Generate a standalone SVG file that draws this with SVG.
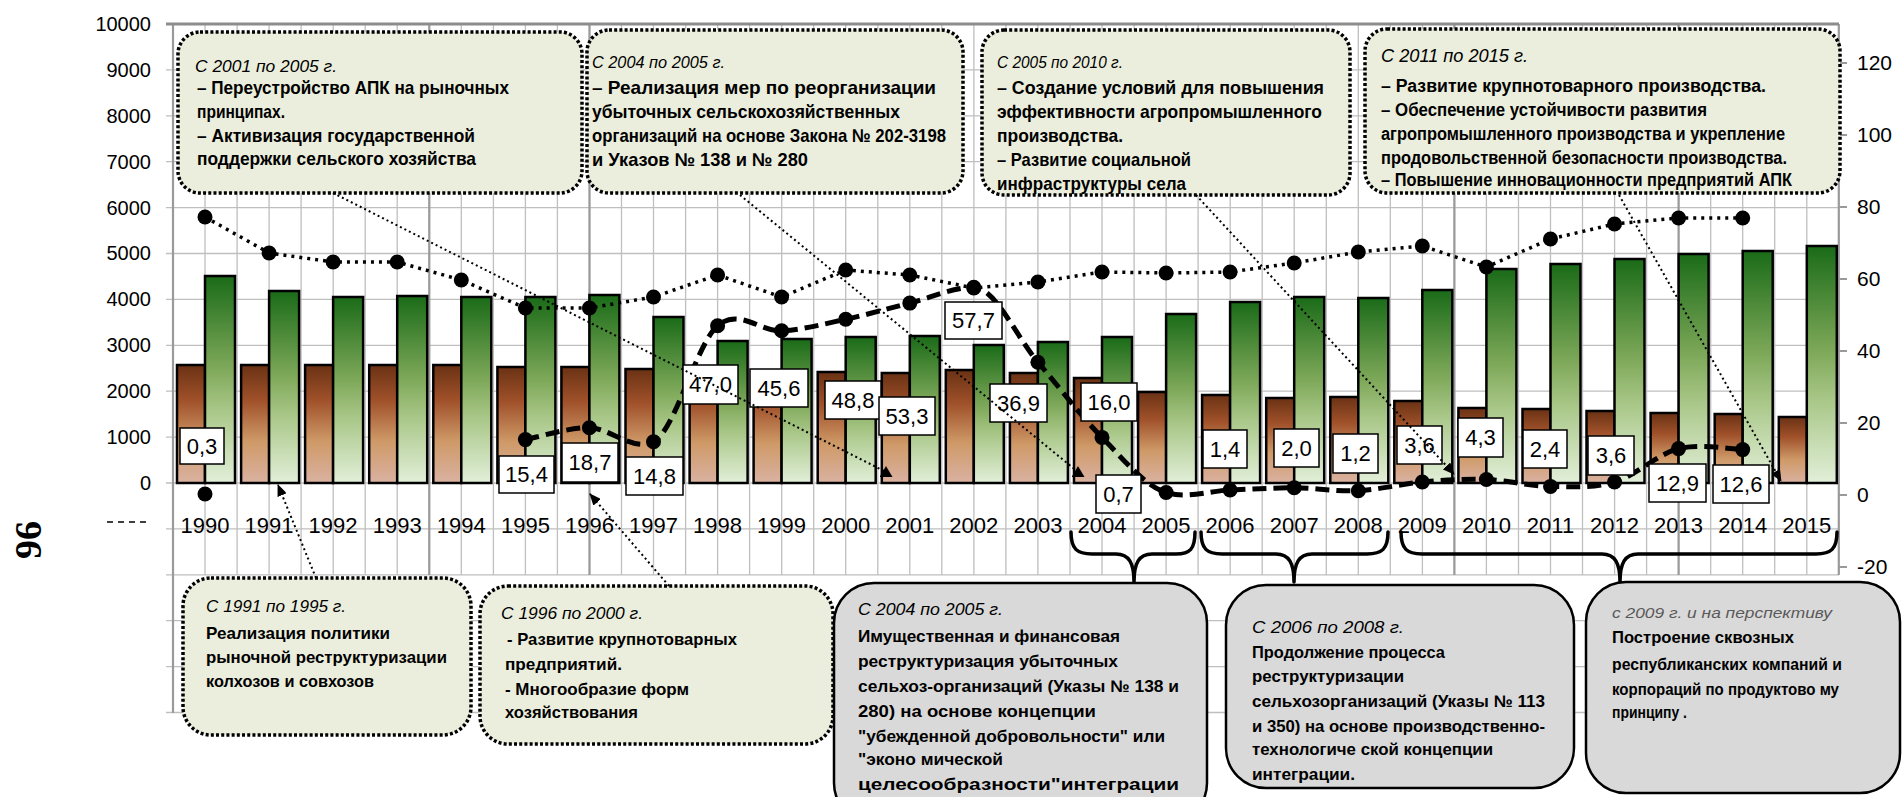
<svg xmlns="http://www.w3.org/2000/svg" width="1903" height="797" viewBox="0 0 1903 797">
<defs>
  <linearGradient id="gBrown" x1="0" y1="0" x2="0" y2="1">
    <stop offset="0" stop-color="#6A3214"/>
    <stop offset="0.3" stop-color="#A0512A"/>
    <stop offset="0.65" stop-color="#CF9A68"/>
    <stop offset="1" stop-color="#DAB2A2"/>
  </linearGradient>
  <linearGradient id="gGreen" x1="0" y1="0" x2="0" y2="1">
    <stop offset="0" stop-color="#1A6B18"/>
    <stop offset="0.45" stop-color="#7FA95A"/>
    <stop offset="0.65" stop-color="#A9C788"/>
    <stop offset="1" stop-color="#E2EFD9"/>
  </linearGradient>
  <marker id="arrow" viewBox="0 0 12 10" refX="11" refY="5" markerWidth="12" markerHeight="10" markerUnits="userSpaceOnUse" orient="auto">
    <path d="M0,0 L12,5 L0,10 z" fill="#000"/>
  </marker>
  <marker id="tri" viewBox="0 0 13 11" refX="6.5" refY="6" markerWidth="13" markerHeight="11" markerUnits="userSpaceOnUse" orient="0">
    <path d="M0,11 L6.5,0 L13,11 z" fill="#000"/>
  </marker>
  <style>
    text { font-family: "Liberation Sans", Arial, sans-serif; fill: #000; }
    .ax { font-size: 20px; }
    .axr { font-size: 21px; }
    .yr { font-size: 22px; text-anchor: middle; }
    .dl { font-size: 22px; text-anchor: middle; }
    .ti { font-style: italic; font-size: 16.5px; }
    .li { font-style: italic; font-size: 16px; }
    .itg { font-style: italic; font-size: 15px; fill: #595959; }
    .tb { font-weight: bold; font-size: 18.5px; }
    .tbd { font-weight: bold; font-size: 18px; }
    .lb { font-weight: bold; font-size: 16.5px; }
    .page { font-family: "Liberation Serif", "Times New Roman", serif; font-weight: bold; font-size: 38px; text-anchor: middle; }
    .grid { stroke: #BFBFBF; stroke-width: 1.3; fill: none; }
    .gridd { stroke: #9A9A9A; stroke-width: 2.2; fill: none; }
    .bb { fill: url(#gBrown); stroke: #000; stroke-width: 2.5; }
    .bg { fill: url(#gGreen); stroke: #000; stroke-width: 2.5; }
    .dot { fill: #000; }
    .lbl { fill: #fff; stroke: #000; stroke-width: 1.5; }
    .note { fill: #EBEEDC; stroke: #000; stroke-width: 3.5; stroke-dasharray: 3 2.2; }
    .gray { fill: #D9D9D9; stroke: #000; stroke-width: 2.5; }
    .brace { fill: none; stroke: #000; stroke-width: 3.5; stroke-linecap: round; stroke-linejoin: round; }
    .conn { fill: none; stroke: #000; stroke-width: 2; stroke-dasharray: 2 3; }
  </style>
</defs>

<rect x="0" y="0" width="1903" height="797" fill="#fff"/>

<!-- plot grid and axes -->
<g id="chart-grid">
  <path class="grid" d="M166,24H1839M166,69.9H1839M166,115.8H1839M166,161.7H1839M166,207.6H1839M166,253.5H1839M166,299.4H1839M166,345.3H1839M166,391.2H1839M166,437.1H1839M166,483H1839M166,528.9H1839M166,574.8H1839M166,620.7H1839M166,666.6H1839M166,712.5H1839"/>
  <path class="grid" d="M205,24V575M237.1,24V575M269.1,24V575M301.1,24V575M333.2,24V575M365.2,24V575M397.2,24V575M429.3,24V575M461.3,24V575M493.4,24V575M525.4,24V575M557.4,24V575M589.5,24V575M621.5,24V575M653.5,24V575M685.6,24V575M717.6,24V575M749.6,24V575M781.7,24V575M813.7,24V575M845.7,24V575M877.8,24V575M909.8,24V575M941.8,24V575M973.9,24V575M1005.9,24V575M1037.9,24V575M1070,24V575M1102,24V575M1134.1,24V575M1166.1,24V575M1198.1,24V575M1230.2,24V575M1262.2,24V575M1294.2,24V575M1326.3,24V575M1358.3,24V575M1390.3,24V575M1422.4,24V575M1454.4,24V575M1486.4,24V575M1518.5,24V575M1550.5,24V575M1582.5,24V575M1614.6,24V575M1646.6,24V575M1678.6,24V575M1710.7,24V575M1742.7,24V575M1774.7,24V575M1806.8,24V575"/>
  <path class="gridd" d="M173,24V713M429.3,24V575M589.5,24V575M1454.4,24V575M1678.6,24V575M1838.8,24V575"/>
  <path d="M166,24H1839" stroke="#8C8C8C" stroke-width="3"/>
  <path class="gridd" d="M1839,63h8M1839,135h8M1839,207h8M1839,279h8M1839,351h8M1839,423h8M1839,495h8M1839,567h8"/>
  <path d="M107,522H150" stroke="#000" stroke-width="1.5" stroke-dasharray="6 5"/>
  <g class="ax" text-anchor="end">
    <text x="151" y="31">10000</text>
    <text x="151" y="77">9000</text>
    <text x="151" y="123">8000</text>
    <text x="151" y="169">7000</text>
    <text x="151" y="215">6000</text>
    <text x="151" y="260">5000</text>
    <text x="151" y="306">4000</text>
    <text x="151" y="352">3000</text>
    <text x="151" y="398">2000</text>
    <text x="151" y="444">1000</text>
    <text x="151" y="490">0</text>
  </g>
  <g class="axr">
    <text x="1857" y="70">120</text>
    <text x="1857" y="142">100</text>
    <text x="1857" y="214">80</text>
    <text x="1857" y="286">60</text>
    <text x="1857" y="358">40</text>
    <text x="1857" y="430">20</text>
    <text x="1857" y="502">0</text>
    <text x="1857" y="574">-20</text>
  </g>
  <g class="yr">
    <text x="205" y="533">1990</text><text x="269.1" y="533">1991</text><text x="333.1" y="533">1992</text>
    <text x="397.2" y="533">1993</text><text x="461.3" y="533">1994</text><text x="525.4" y="533">1995</text>
    <text x="589.4" y="533">1996</text><text x="653.5" y="533">1997</text><text x="717.6" y="533">1998</text>
    <text x="781.6" y="533">1999</text><text x="845.7" y="533">2000</text><text x="909.8" y="533">2001</text>
    <text x="973.8" y="533">2002</text><text x="1037.9" y="533">2003</text><text x="1102" y="533">2004</text>
    <text x="1166.1" y="533">2005</text><text x="1230.1" y="533">2006</text><text x="1294.2" y="533">2007</text>
    <text x="1358.3" y="533">2008</text><text x="1422.3" y="533">2009</text><text x="1486.4" y="533">2010</text>
    <text x="1550.5" y="533">2011</text><text x="1614.5" y="533">2012</text><text x="1678.6" y="533">2013</text>
    <text x="1742.7" y="533">2014</text><text x="1806.8" y="533">2015</text>
  </g>
  <text class="page" transform="translate(41,540) rotate(-90)">96</text>
</g>

<!-- columns: brown (left) and green (right) per year -->
<g id="bars">
  <rect class="bb" x="177" y="365" width="28" height="118"/><rect class="bg" x="205" y="276" width="30" height="207"/>
  <rect class="bb" x="241.1" y="365" width="28" height="118"/><rect class="bg" x="269.1" y="291" width="30" height="192"/>
  <rect class="bb" x="305.1" y="365" width="28" height="118"/><rect class="bg" x="333.1" y="297" width="30" height="186"/>
  <rect class="bb" x="369.2" y="365" width="28" height="118"/><rect class="bg" x="397.2" y="296" width="30" height="187"/>
  <rect class="bb" x="433.3" y="365" width="28" height="118"/><rect class="bg" x="461.3" y="297" width="30" height="186"/>
  <rect class="bb" x="497.4" y="367" width="28" height="116"/><rect class="bg" x="525.4" y="297" width="30" height="186"/>
  <rect class="bb" x="561.4" y="367" width="28" height="116"/><rect class="bg" x="589.4" y="295" width="30" height="188"/>
  <rect class="bb" x="625.5" y="369" width="28" height="114"/><rect class="bg" x="653.5" y="317" width="30" height="166"/>
  <rect class="bb" x="689.6" y="370" width="28" height="113"/><rect class="bg" x="717.6" y="341" width="30" height="142"/>
  <rect class="bb" x="753.6" y="371" width="28" height="112"/><rect class="bg" x="781.6" y="339" width="30" height="144"/>
  <rect class="bb" x="817.7" y="372" width="28" height="111"/><rect class="bg" x="845.7" y="337" width="30" height="146"/>
  <rect class="bb" x="881.8" y="373" width="28" height="110"/><rect class="bg" x="909.8" y="336" width="30" height="147"/>
  <rect class="bb" x="945.8" y="370" width="28" height="113"/><rect class="bg" x="973.8" y="345" width="30" height="138"/>
  <rect class="bb" x="1009.9" y="373" width="28" height="110"/><rect class="bg" x="1037.9" y="342" width="30" height="141"/>
  <rect class="bb" x="1074" y="378" width="28" height="105"/><rect class="bg" x="1102" y="337" width="30" height="146"/>
  <rect class="bb" x="1138.1" y="392" width="28" height="91"/><rect class="bg" x="1166.1" y="314" width="30" height="169"/>
  <rect class="bb" x="1202.1" y="395" width="28" height="88"/><rect class="bg" x="1230.1" y="302" width="30" height="181"/>
  <rect class="bb" x="1266.2" y="398" width="28" height="85"/><rect class="bg" x="1294.2" y="297" width="30" height="186"/>
  <rect class="bb" x="1330.3" y="397" width="28" height="86"/><rect class="bg" x="1358.3" y="298" width="30" height="185"/>
  <rect class="bb" x="1394.3" y="401" width="28" height="82"/><rect class="bg" x="1422.3" y="290" width="30" height="193"/>
  <rect class="bb" x="1458.4" y="408" width="28" height="75"/><rect class="bg" x="1486.4" y="269" width="30" height="214"/>
  <rect class="bb" x="1522.5" y="409" width="28" height="74"/><rect class="bg" x="1550.5" y="264" width="30" height="219"/>
  <rect class="bb" x="1586.5" y="411" width="28" height="72"/><rect class="bg" x="1614.5" y="259" width="30" height="224"/>
  <rect class="bb" x="1650.6" y="413" width="28" height="70"/><rect class="bg" x="1678.6" y="254" width="30" height="229"/>
  <rect class="bb" x="1714.7" y="414" width="28" height="69"/><rect class="bg" x="1742.7" y="251" width="30" height="232"/>
  <rect class="bb" x="1778.8" y="417" width="28" height="66"/><rect class="bg" x="1806.8" y="246" width="30" height="237"/>
</g>

<!-- dotted series on the right axis -->
<g id="series-dotted">
  <polyline fill="none" stroke="#000" stroke-width="3.5" stroke-dasharray="3 5" points="205,217 269.1,253 333.1,262 397.2,262 461.3,280 525.4,308 589.4,308 653.5,297 717.6,275 781.6,297 845.7,270 909.8,275 973.8,288 1037.9,282 1102,272 1166.1,273 1230.1,272 1294.2,263 1358.3,252 1422.3,246 1486.4,267 1550.5,239 1614.5,224 1678.6,218 1742.7,218"/>
  <g class="dot">
    <circle cx="205" cy="217" r="7.5"/><circle cx="269.1" cy="253" r="7.5"/><circle cx="333.1" cy="262" r="7.5"/>
    <circle cx="397.2" cy="262" r="7.5"/><circle cx="461.3" cy="280" r="7.5"/><circle cx="525.4" cy="308" r="7.5"/>
    <circle cx="589.4" cy="308" r="7.5"/><circle cx="653.5" cy="297" r="7.5"/><circle cx="717.6" cy="275" r="7.5"/>
    <circle cx="781.6" cy="297" r="7.5"/><circle cx="845.7" cy="270" r="7.5"/><circle cx="909.8" cy="275" r="7.5"/>
    <circle cx="973.8" cy="288" r="7.5"/><circle cx="1037.9" cy="282" r="7.5"/><circle cx="1102" cy="272" r="7.5"/>
    <circle cx="1166.1" cy="273" r="7.5"/><circle cx="1230.1" cy="272" r="7.5"/><circle cx="1294.2" cy="263" r="7.5"/>
    <circle cx="1358.3" cy="252" r="7.5"/><circle cx="1422.3" cy="246" r="7.5"/><circle cx="1486.4" cy="267" r="7.5"/>
    <circle cx="1550.5" cy="239" r="7.5"/><circle cx="1614.5" cy="224" r="7.5"/><circle cx="1678.6" cy="218" r="7.5"/>
    <circle cx="1742.7" cy="218" r="7.5"/>
  </g>
</g>

<!-- dashed smoothed series on the right axis -->
<g id="series-dashed">
  <path fill="none" stroke="#000" stroke-width="5" stroke-dasharray="14 7" d="M525.4,439.6 C536,437.6 568.1,427.4 589.4,427.7 C610.8,428.1 632.1,452 653.5,441.7 C674.9,431.4 696.2,344.3 717.6,325.8 C738.9,307.3 760.3,331.9 781.6,330.8 C803,329.7 824.3,323.9 845.7,319.3 C867.1,314.7 888.4,308.4 909.8,303.1 C931.1,297.8 952.5,287.3 973.8,287.3 C995.2,287.3 1016.6,337.2 1037.9,362.2 C1059.3,387.2 1080.6,415.7 1102,437.4 C1123.3,459.1 1144.7,486 1166.1,492.5 C1187.4,499 1208.8,490.8 1230.1,490 C1251.5,489.2 1272.8,487.7 1294.2,487.8 C1315.6,487.9 1336.9,491.7 1358.3,490.7 C1379.6,489.7 1401,483.9 1422.3,482 C1443.7,480.1 1465,478.8 1486.4,479.5 C1507.8,480.2 1529.1,486 1550.5,486.4 C1571.8,486.8 1593.2,488.3 1614.5,482 C1635.9,475.7 1657.3,454 1678.6,448.6 C1700,443.2 1732,449.4 1742.7,449.6"/>
  <g class="dot">
    <circle cx="205" cy="494" r="7.5"/>
    <circle cx="525.4" cy="439.6" r="7.5"/><circle cx="589.4" cy="427.7" r="7.5"/><circle cx="653.5" cy="441.7" r="7.5"/>
    <circle cx="717.6" cy="325.8" r="7.5"/><circle cx="781.6" cy="330.8" r="7.5"/><circle cx="845.7" cy="319.3" r="7.5"/>
    <circle cx="909.8" cy="303.1" r="7.5"/><circle cx="973.8" cy="287.3" r="7.5"/><circle cx="1037.9" cy="362.2" r="7.5"/>
    <circle cx="1102" cy="437.4" r="7.5"/><circle cx="1166.1" cy="492.5" r="7.5"/><circle cx="1230.1" cy="490" r="7.5"/>
    <circle cx="1294.2" cy="487.8" r="7.5"/><circle cx="1358.3" cy="490.7" r="7.5"/><circle cx="1422.3" cy="482" r="7.5"/>
    <circle cx="1486.4" cy="479.5" r="7.5"/><circle cx="1550.5" cy="486.4" r="7.5"/><circle cx="1614.5" cy="482" r="7.5"/>
    <circle cx="1678.6" cy="448.6" r="7.5"/><circle cx="1742.7" cy="449.6" r="7.5"/>
  </g>
</g>

<!-- value labels of the dashed series -->
<g id="labels">
  <rect class="lbl" x="180" y="428" width="44" height="36"/><text class="dl" x="202" y="454">0,3</text>
  <rect class="lbl" x="499" y="456" width="55" height="37"/><text class="dl" x="526.5" y="482">15,4</text>
  <rect class="lbl" x="562" y="443" width="56" height="39"/><text class="dl" x="590" y="470">18,7</text>
  <rect class="lbl" x="626" y="457" width="57" height="38"/><text class="dl" x="654.5" y="484">14,8</text>
  <rect class="lbl" x="683" y="365" width="55" height="39"/><text class="dl" x="710.5" y="392">47,0</text>
  <rect class="lbl" x="750" y="369" width="58" height="38"/><text class="dl" x="779" y="396">45,6</text>
  <rect class="lbl" x="825" y="381" width="56" height="38"/><text class="dl" x="853" y="408">48,8</text>
  <rect class="lbl" x="879" y="397" width="56" height="38"/><text class="dl" x="907" y="424">53,3</text>
  <rect class="lbl" x="945" y="302" width="57" height="37"/><text class="dl" x="973.5" y="328">57,7</text>
  <rect class="lbl" x="990" y="384" width="57" height="38"/><text class="dl" x="1018.5" y="411">36,9</text>
  <rect class="lbl" x="1081" y="383" width="56" height="38"/><text class="dl" x="1109" y="410">16,0</text>
  <rect class="lbl" x="1096" y="475" width="45" height="38"/><text class="dl" x="1118.5" y="502">0,7</text>
  <rect class="lbl" x="1203" y="430" width="44" height="38"/><text class="dl" x="1225" y="457">1,4</text>
  <rect class="lbl" x="1274" y="429" width="45" height="38"/><text class="dl" x="1296.5" y="456">2,0</text>
  <rect class="lbl" x="1333" y="434" width="45" height="39"/><text class="dl" x="1355.5" y="461">1,2</text>
  <rect class="lbl" x="1397" y="426" width="45" height="38"/><text class="dl" x="1419.5" y="453">3,6</text>
  <rect class="lbl" x="1458" y="418" width="45" height="39"/><text class="dl" x="1480.5" y="445">4,3</text>
  <rect class="lbl" x="1523" y="430" width="44" height="38"/><text class="dl" x="1545" y="457">2,4</text>
  <rect class="lbl" x="1588" y="436" width="46" height="39"/><text class="dl" x="1611" y="463">3,6</text>
  <rect class="lbl" x="1649" y="464" width="57" height="38"/><text class="dl" x="1677.5" y="491">12,9</text>
  <rect class="lbl" x="1713" y="465" width="56" height="38"/><text class="dl" x="1741" y="492">12,6</text>
</g>

<!-- braces grouping the years -->
<g id="brace-2004-2005"><path class="brace" d="M1071,532 C1071,549 1077,554 1092,554 H1116 C1129,554 1134,563 1134,582 C1134,563 1139,554 1152,554 H1176 C1190,554 1195,549 1195,532"/></g>
<g id="brace-2006-2008"><path class="brace" d="M1201,532 C1201,549 1207,554 1222,554 H1276 C1289,554 1294,563 1294,582 C1294,563 1299,554 1312,554 H1367 C1382,554 1388,549 1388,532"/></g>
<g id="brace-2009-2015"><path class="brace" d="M1401,532 C1401,549 1407,554 1422,554 H1602 C1615,554 1620,563 1620,582 C1620,563 1625,554 1638,554 H1816 C1831,554 1837,549 1837,532"/></g>

<!-- period notes, top row -->
<g id="note-2001-2005">
  <rect class="note" x="178" y="32" width="404" height="161" rx="22"/>
  <text class="ti" x="195" y="72" textLength="142" lengthAdjust="spacingAndGlyphs">С 2001 по 2005 г.</text>
  <text class="tb" x="197" y="94" textLength="312" lengthAdjust="spacingAndGlyphs">– Переустройство АПК на рыночных</text>
  <text class="tb" x="197" y="118" textLength="88" lengthAdjust="spacingAndGlyphs">принципах.</text>
  <text class="tb" x="197" y="142" textLength="278" lengthAdjust="spacingAndGlyphs">– Активизация государственной</text>
  <text class="tb" x="197" y="165" textLength="279" lengthAdjust="spacingAndGlyphs">поддержки сельского хозяйства</text>
</g>
<g id="note-2004-2005-top">
  <rect class="note" x="587" y="30" width="376" height="163" rx="22"/>
  <text class="ti" x="592" y="68" textLength="133" lengthAdjust="spacingAndGlyphs">С 2004 по 2005 г.</text>
  <text class="tb" x="592" y="94" textLength="344" lengthAdjust="spacingAndGlyphs">– Реализация мер по реорганизации</text>
  <text class="tb" x="592" y="118" textLength="308" lengthAdjust="spacingAndGlyphs">убыточных сельскохозяйственных</text>
  <text class="tb" x="592" y="142" textLength="354" lengthAdjust="spacingAndGlyphs">организаций на основе Закона № 202-3198</text>
  <text class="tb" x="592" y="166" textLength="216" lengthAdjust="spacingAndGlyphs">и Указов № 138 и № 280</text>
</g>
<g id="note-2005-2010">
  <rect class="note" x="982" y="30" width="368" height="165" rx="22"/>
  <text class="ti" x="997" y="68" textLength="126" lengthAdjust="spacingAndGlyphs">С 2005 по 2010 г.</text>
  <text class="tb" x="997" y="94" textLength="327" lengthAdjust="spacingAndGlyphs">– Создание условий для повышения</text>
  <text class="tb" x="997" y="118" textLength="325" lengthAdjust="spacingAndGlyphs">эффективности агропромышленного</text>
  <text class="tb" x="997" y="142" textLength="126" lengthAdjust="spacingAndGlyphs">производства.</text>
  <text class="tb" x="997" y="166" textLength="194" lengthAdjust="spacingAndGlyphs">– Развитие социальной</text>
  <text class="tb" x="997" y="190" textLength="189" lengthAdjust="spacingAndGlyphs">инфраструктуры села</text>
</g>
<g id="note-2011-2015">
  <rect class="note" x="1365" y="29" width="475" height="164" rx="22"/>
  <text class="ti" font-size="17" style="font-size:17.5px" x="1381" y="62" textLength="147" lengthAdjust="spacingAndGlyphs">С 2011 по 2015 г.</text>
  <text class="tbd" x="1381" y="92" textLength="385" lengthAdjust="spacingAndGlyphs">– Развитие крупнотоварного производства.</text>
  <text class="tbd" x="1381" y="116" textLength="326" lengthAdjust="spacingAndGlyphs">– Обеспечение устойчивости развития</text>
  <text class="tbd" x="1381" y="140" textLength="404" lengthAdjust="spacingAndGlyphs">агропромышленного производства и укрепление</text>
  <text class="tbd" x="1381" y="164" textLength="406" lengthAdjust="spacingAndGlyphs">продовольственной безопасности производства.</text>
  <text class="tbd" x="1381" y="186" textLength="411" lengthAdjust="spacingAndGlyphs">– Повышение инновационности предприятий АПК</text>
</g>

<!-- period notes, bottom row -->
<g id="note-1991-1995">
  <rect class="note" x="183" y="578" width="288" height="157" rx="28"/>
  <text class="li" x="206" y="612" textLength="140" lengthAdjust="spacingAndGlyphs">С 1991 по 1995 г.</text>
  <text class="lb" x="206" y="639" textLength="184" lengthAdjust="spacingAndGlyphs">Реализация политики</text>
  <text class="lb" x="206" y="663" textLength="241" lengthAdjust="spacingAndGlyphs">рыночной реструктуризации</text>
  <text class="lb" x="206" y="687" textLength="168" lengthAdjust="spacingAndGlyphs">колхозов и совхозов</text>
</g>
<g id="note-1996-2000">
  <rect class="note" x="480" y="586" width="353" height="158" rx="28"/>
  <text class="li" x="501" y="619" textLength="142" lengthAdjust="spacingAndGlyphs">С 1996 по 2000 г.</text>
  <text class="lb" x="507" y="645" textLength="230" lengthAdjust="spacingAndGlyphs">- Развитие крупнотоварных</text>
  <text class="lb" x="505" y="670" textLength="117" lengthAdjust="spacingAndGlyphs">предприятий.</text>
  <text class="lb" x="505" y="695" textLength="184" lengthAdjust="spacingAndGlyphs">- Многообразие форм</text>
  <text class="lb" x="505" y="718" textLength="133" lengthAdjust="spacingAndGlyphs">хозяйствования</text>
</g>
<g id="note-2004-2005-bottom">
  <rect class="gray" x="834" y="583" width="373" height="240" rx="40"/>
  <text class="li" x="858" y="615" textLength="145" lengthAdjust="spacingAndGlyphs">С 2004 по 2005 г.</text>
  <text class="lb" x="858" y="642" textLength="262" lengthAdjust="spacingAndGlyphs">Имущественная и финансовая</text>
  <text class="lb" x="858" y="667" textLength="260" lengthAdjust="spacingAndGlyphs">реструктуризация убыточных</text>
  <text class="lb" x="858" y="692" textLength="321" lengthAdjust="spacingAndGlyphs">сельхоз-организаций (Указы № 138 и</text>
  <text class="lb" x="858" y="717" textLength="238" lengthAdjust="spacingAndGlyphs">280) на основе концепции</text>
  <text class="lb" x="858" y="742" textLength="307" lengthAdjust="spacingAndGlyphs">"убежденной добровольности" или</text>
  <text class="lb" x="858" y="765" textLength="145" lengthAdjust="spacingAndGlyphs">"эконо мической</text>
  <text class="lb" x="858" y="790" textLength="321" lengthAdjust="spacingAndGlyphs">целесообразности"интеграции</text>
</g>
<g id="note-2006-2008">
  <rect class="gray" x="1226" y="585" width="348" height="203" rx="40"/>
  <text class="li" x="1252" y="633" textLength="152" lengthAdjust="spacingAndGlyphs">С 2006 по 2008 г.</text>
  <text class="lb" x="1252" y="658" textLength="193" lengthAdjust="spacingAndGlyphs">Продолжение процесса</text>
  <text class="lb" x="1252" y="682" textLength="152" lengthAdjust="spacingAndGlyphs">реструктуризации</text>
  <text class="lb" x="1252" y="707" textLength="293" lengthAdjust="spacingAndGlyphs">сельхозорганизаций (Указы № 113</text>
  <text class="lb" x="1252" y="732" textLength="293" lengthAdjust="spacingAndGlyphs">и 350) на основе производственно-</text>
  <text class="lb" x="1252" y="755" textLength="241" lengthAdjust="spacingAndGlyphs">технологиче ской концепции</text>
  <text class="lb" x="1252" y="780" textLength="103" lengthAdjust="spacingAndGlyphs">интеграции.</text>
</g>
<g id="note-2009-on">
  <rect class="gray" x="1586" y="582" width="314" height="211" rx="40"/>
  <text class="itg" x="1612" y="618" textLength="220" lengthAdjust="spacingAndGlyphs">с 2009 г. и на перспективу</text>
  <text class="lb" x="1612" y="643" textLength="182" lengthAdjust="spacingAndGlyphs">Построение сквозных</text>
  <text class="lb" x="1612" y="670" textLength="230" lengthAdjust="spacingAndGlyphs">республиканских компаний и</text>
  <text class="lb" x="1612" y="695" textLength="227" lengthAdjust="spacingAndGlyphs">корпораций по продуктово му</text>
  <text class="lb" x="1612" y="718" textLength="75" lengthAdjust="spacingAndGlyphs">принципу .</text>
</g>

<!-- dotted pointers from the notes to the years -->
<g id="connectors">
  <path class="conn" d="M333,193 L886,472" marker-end="url(#tri)"/>
  <path class="conn" d="M740,195 L1078,472" marker-end="url(#tri)"/>
  <path class="conn" d="M1196,195 L1454,474" marker-end="url(#arrow)"/>
  <path class="conn" d="M1619,195 L1781,481" marker-end="url(#arrow)"/>
  <path class="conn" d="M316,578 L278,485" marker-end="url(#arrow)"/>
  <path class="conn" d="M669,586 L590,494" marker-end="url(#arrow)"/>
</g>
</svg>
